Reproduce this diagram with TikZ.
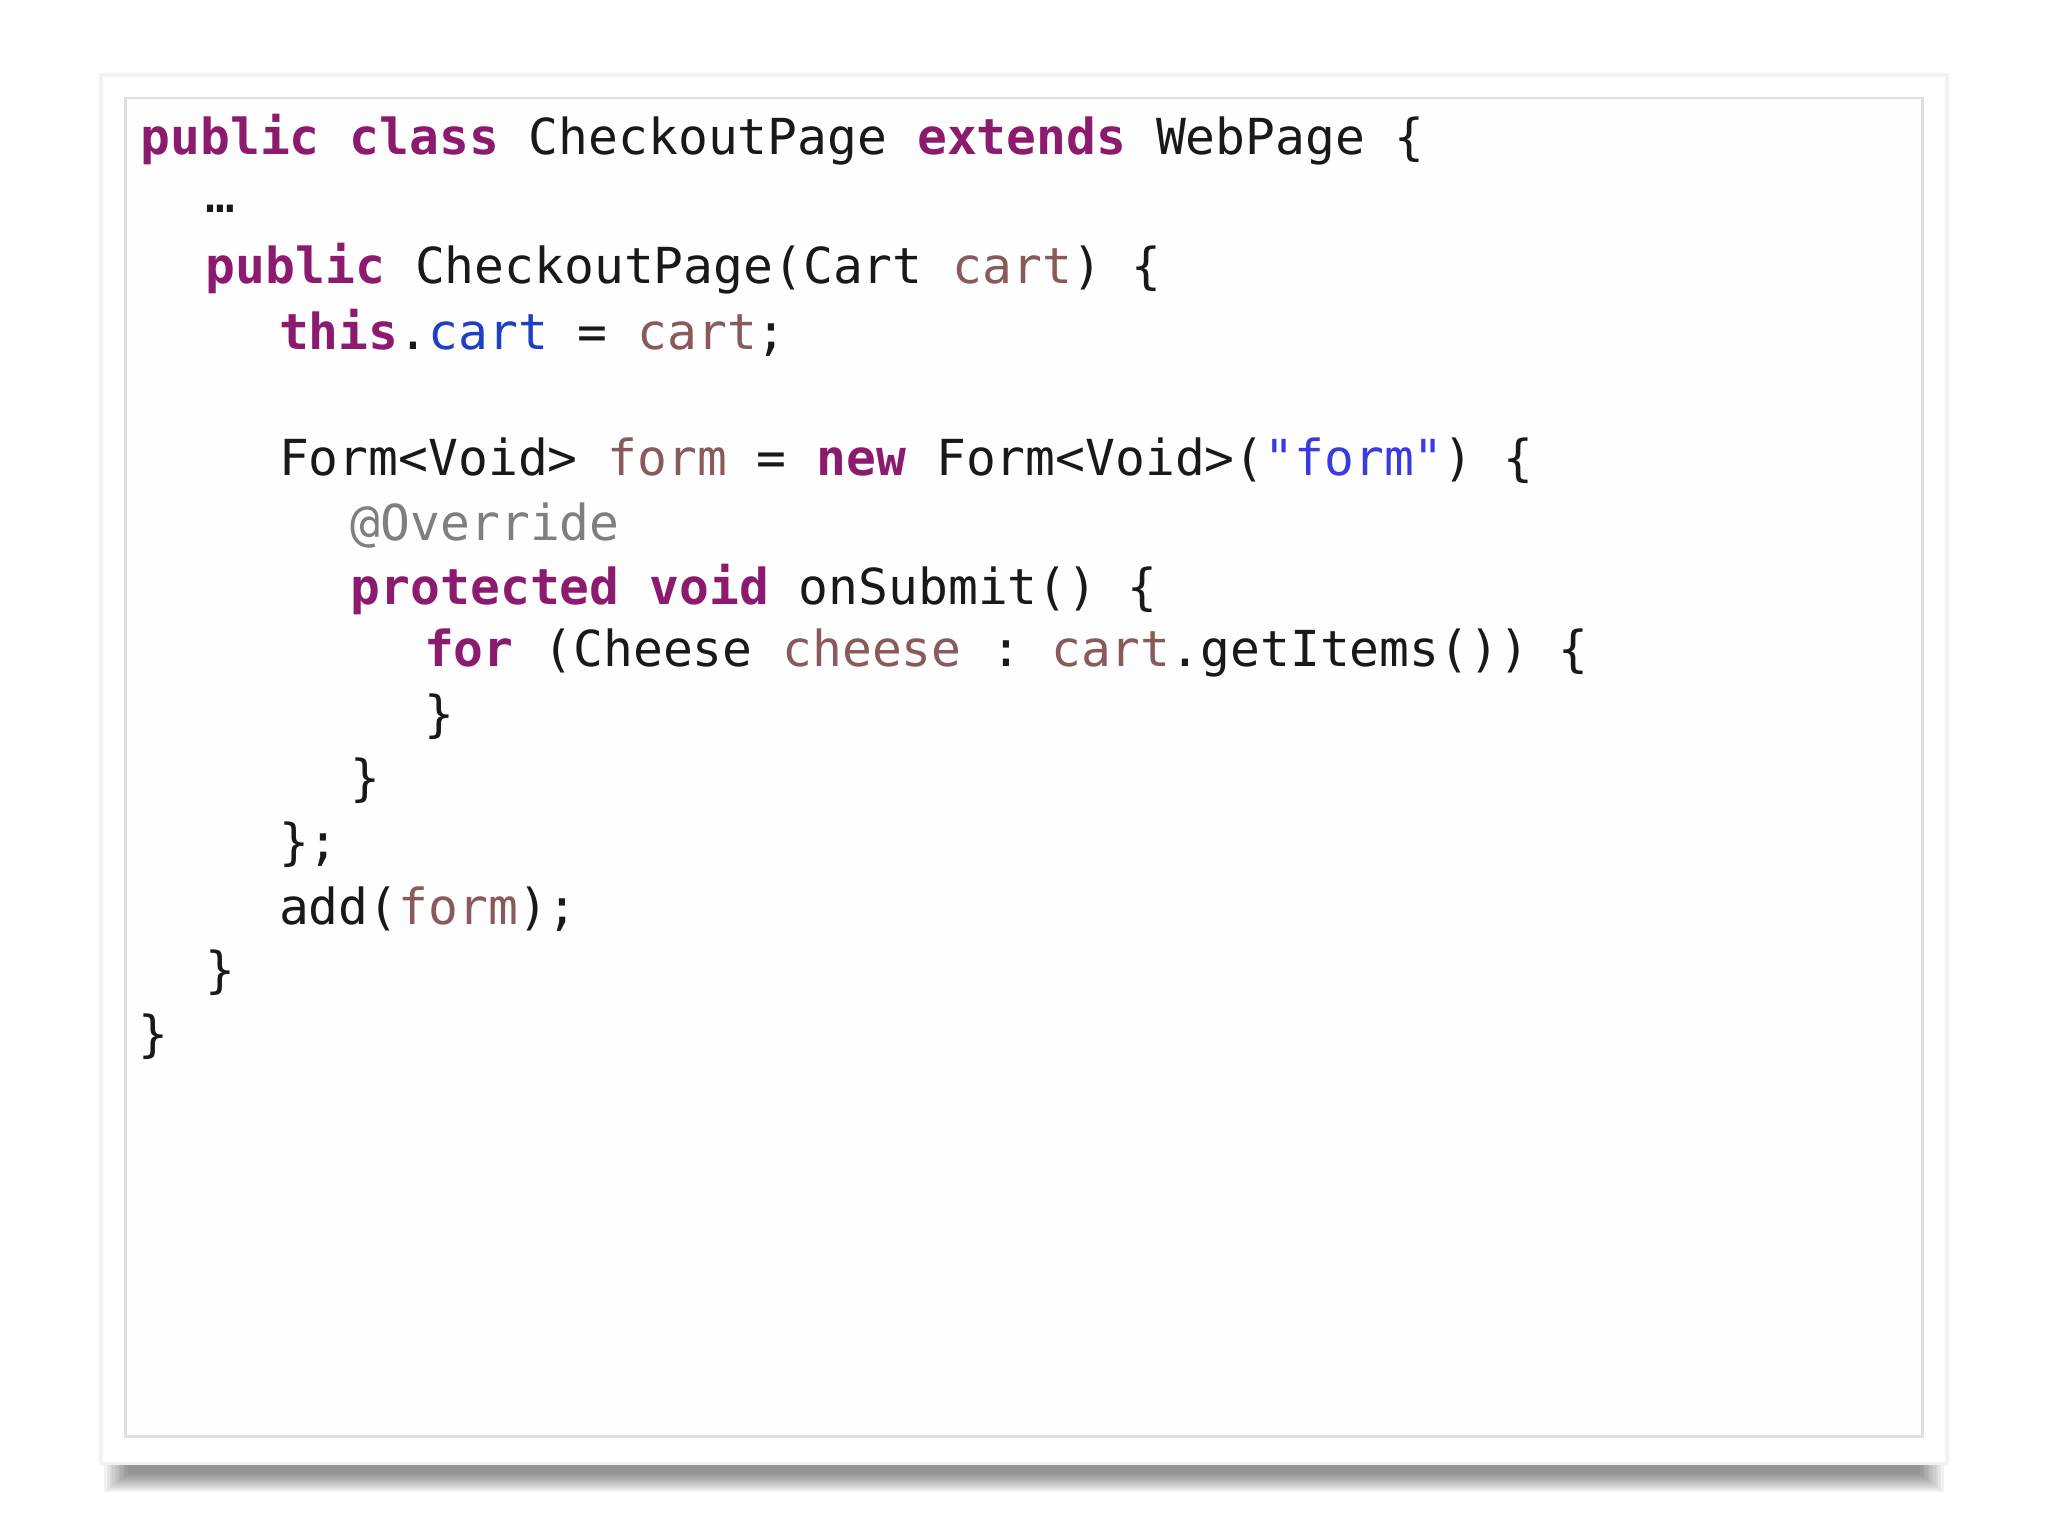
\documentclass[tikz,border=0pt]{standalone}
\usepackage{fontspec}
\setmonofont{DejaVu Sans Mono}
\definecolor{kw}{HTML}{8C1A6E}
\definecolor{var}{HTML}{8A5A5A}
\definecolor{fld}{HTML}{1F3FC4}
\definecolor{str}{HTML}{3A3AE0}
\definecolor{ann}{HTML}{7F7F7F}
\newcommand{\K}[1]{\textcolor{kw}{\bfseries #1}}
\newcommand{\V}[1]{\textcolor{var}{#1}}
\begin{document}
\begin{tikzpicture}[x=0.01cm,y=-0.01cm,
  code/.style={anchor=west,inner sep=0pt,font=\ttfamily\fontsize{10.8pt}{12pt}\selectfont,text=black!90}]
\useasboundingbox (0,0) rectangle (1568,1176);
\fill[white] (0,0) rectangle (1568,1176);
% shadow
\foreach \i in {0,...,9}{
 \fill[black,opacity=0.05] (80+\i*2,1112) rectangle (1488-\i*2,1142-\i*1.5);}
\fill[gray!10] (76,56) rectangle (1492,1122);
\fill[white] (79,59) rectangle (1489,1119);
\draw[gray!25,line width=0.6pt,fill=gray!1] (96,75) rectangle (1472,1100);
\node[code] (l1) at (107,107) {\K{public class} CheckoutPage \K{extends} WebPage \{};
\node[code] (l2) at (157,160) {…};
\node[code] (l3) at (157,206) {\K{public} CheckoutPage(Cart \V{cart}) \{};
\node[code] (l4) at (213,255) {\K{this}.\textcolor{fld}{cart} = \V{cart};};
\node[code] (l5) at (213,353) {Form<Void> \V{form} = \K{new} Form<Void>(\textcolor{str}{"form"}) \{};
\node[code] (l6) at (268,402) {\textcolor{ann}{@Override}};
\node[code] (l7) at (268,451) {\K{protected void} onSubmit() \{};
\node[code] (l8) at (324,500) {\K{for} (Cheese \V{cheese} : \V{cart}.getItems()) \{};
\node[code] (l9) at (324,549) {\}};
\node[code] (l10) at (268,598) {\}};
\node[code] (l11) at (213,647) {\};};
\node[code] (l12) at (213,696) {add(\V{form});};
\node[code] (l13) at (157,745) {\}};
\node[code] (l14) at (105,794) {\}};
\end{tikzpicture}
\end{document}
